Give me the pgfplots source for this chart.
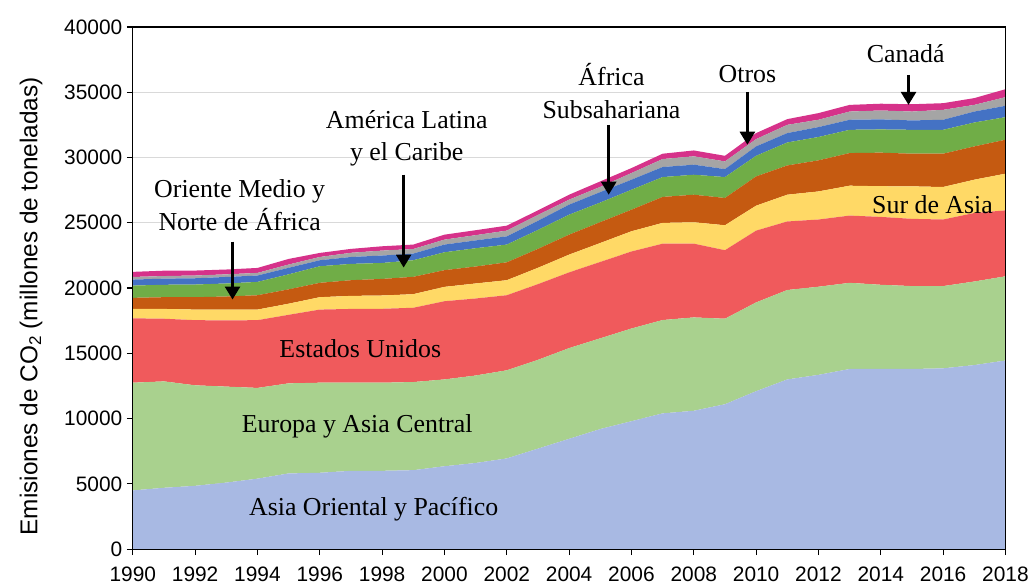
\documentclass[border=0pt]{standalone}
\usepackage{pgfplots}
\pgfplotsset{compat=1.18}
\usepackage{pgfplotstable}
\usetikzlibrary{arrows.meta}
\usepackage{fontspec}
\setmainfont{Liberation Serif}
\newfontfamily\arialfont{Liberation Sans}

\definecolor{cAsia}{RGB}{168,185,227}
\definecolor{cEur}{RGB}{169,209,142}
\definecolor{cUS}{RGB}{240,90,92}
\definecolor{cSA}{RGB}{255,217,102}
\definecolor{cME}{RGB}{197,90,17}
\definecolor{cLA}{RGB}{112,173,71}
\definecolor{cSS}{RGB}{68,114,196}
\definecolor{cOT}{RGB}{165,165,165}
\definecolor{cCA}{RGB}{214,50,138}

\tikzset{lab/.style={font=\fontsize{26}{33}\selectfont, align=center},
  arr/.style={line width=2.6bp, -{Triangle[width=15bp,length=13bp]}}}

\pgfplotstableread{
year A E US SA ME LA SS OT CA
1990 4500 8250 4930 730 840 940 460 200 390
1991 4700 8150 4800 750 900 950 470 200 410
1992 4850 7700 4990 810 950 970 480 210 380
1993 5100 7350 5070 830 1000 1000 500 200 370
1994 5400 6950 5190 810 1100 1020 490 200 380
1995 5800 6900 5250 850 1100 1150 500 250 430
1996 5850 6900 5600 950 1100 1270 460 250 310
1997 6000 6750 5650 1000 1200 1250 530 320 300
1998 6000 6750 5660 1020 1270 1220 570 380 330
1999 6050 6750 5690 1040 1330 1270 510 350 340
2000 6350 6650 5990 1100 1280 1370 590 380 380
2001 6600 6700 5900 1150 1300 1400 600 400 380
2002 6950 6750 5750 1150 1370 1360 630 440 380
2003 7700 6800 5800 1250 1450 1450 700 450 350
2004 8450 6950 5800 1360 1530 1530 770 380 380
2005 9200 6950 5850 1450 1600 1500 800 400 420
2006 9800 7100 5900 1550 1650 1530 770 510 380
2007 10400 7150 5850 1590 1990 1520 770 610 410
2008 10600 7150 5650 1640 2110 1530 770 640 450
2009 11100 6550 5250 1910 2090 1600 610 590 430
2010 12100 6800 5500 1910 2240 1580 720 560 460
2011 13000 6850 5250 2050 2240 1760 720 630 440
2012 13350 6750 5150 2150 2380 1790 760 560 510
2013 13800 6600 5150 2290 2500 1780 770 630 510
2014 13800 6450 5200 2350 2570 1780 770 680 520
2015 13800 6350 5150 2490 2500 1830 720 680 560
2016 13850 6300 5100 2490 2550 1830 770 760 510
2017 14100 6400 5250 2550 2550 1830 840 510 520
2018 14450 6450 5050 2810 2600 1730 870 660 610
}\emisiones

\begin{document}
\begin{tikzpicture}
\begin{axis}[
  scale only axis,
  width=874bp, height=523bp,
  xmin=1990, xmax=2018, ymin=0, ymax=40000,
  xtick={1990,1992,...,2018},
  ytick={0,5000,...,40000},
  scaled y ticks=false,
  stack plots=y,
  axis line style={black, line width=1.2bp},
  tick style={black, line width=1.2bp},
  major tick length=6bp,
  tick align=outside,
  xtick pos=left, ytick pos=left,
  ymajorgrids,
  grid style={gray!30, line width=1bp},
  /pgf/number format/1000 sep={},
  /pgf/number format/assume math mode=true,
  ticklabel style={font=\arialfont\fontsize{21}{25}\selectfont},
  yticklabel style={xshift=-1bp},
  xticklabel style={yshift=-8bp},
  ylabel={Emisiones de CO\textsubscript{2} (millones de toneladas)},
  ylabel style={font=\arialfont\fontsize{24.5}{29}\selectfont, at={(ticklabel cs:0.465,15bp)}},
  clip=false,
]
\addplot[fill=cAsia, draw=none] table[x=year, y=A] {\emisiones} \closedcycle;
\addplot[fill=cEur, draw=none] table[x=year, y=E] {\emisiones} \closedcycle;
\addplot[fill=cUS, draw=none] table[x=year, y=US] {\emisiones} \closedcycle;
\addplot[fill=cSA, draw=none] table[x=year, y=SA] {\emisiones} \closedcycle;
\addplot[fill=cME, draw=none] table[x=year, y=ME] {\emisiones} \closedcycle;
\addplot[fill=cLA, draw=none] table[x=year, y=LA] {\emisiones} \closedcycle;
\addplot[fill=cSS, draw=none] table[x=year, y=SS] {\emisiones} \closedcycle;
\addplot[fill=cOT, draw=none] table[x=year, y=OT] {\emisiones} \closedcycle;
\addplot[fill=cCA, draw=none] table[x=year, y=CA] {\emisiones} \closedcycle;

\coordinate (sw) at (rel axis cs:0,0);
\coordinate (ne) at (rel axis cs:1,1);
\coordinate (l1) at (axis cs:1997.73,3060);
\coordinate (l2) at (axis cs:1997.2,9400);
\coordinate (l3) at (axis cs:1997.3,15370);
\coordinate (l4) at (axis cs:2015.66,26390);
\coordinate (l5) at (axis cs:1993.43,26350);
\coordinate (l6) at (axis cs:1998.79,31470);
\coordinate (l7) at (axis cs:2005.36,35100);
\coordinate (l8) at (axis cs:2009.72,36400);
\coordinate (l9) at (axis cs:2014.8,37930);
\coordinate (a1) at (axis cs:1993.2,23560);
\coordinate (b1) at (axis cs:1993.2,19120);
\coordinate (a2) at (axis cs:1998.69,28680);
\coordinate (b2) at (axis cs:1998.69,21570);
\coordinate (a3) at (axis cs:2005.27,32500);
\coordinate (b3) at (axis cs:2005.27,27150);
\coordinate (a4) at (axis cs:2009.72,35030);
\coordinate (b4) at (axis cs:2009.72,30980);
\coordinate (a5) at (axis cs:2014.89,36330);
\coordinate (b5) at (axis cs:2014.89,34030);
\end{axis}
\draw[line width=1.2bp] (sw) rectangle (ne);
\node[lab] at (l1) {Asia Oriental y Pacífico};
\node[lab] at (l2) {Europa y Asia Central};
\node[lab] at (l3) {Estados Unidos};
\node[lab] at (l4) {Sur de Asia};
\node[lab] at (l5) {Oriente Medio y\\Norte de África};
\node[lab] at (l6) {América Latina\\y el Caribe};
\node[lab] at (l7) {África\\Subsahariana};
\node[lab] at (l8) {Otros};
\node[lab] at (l9) {Canadá};
\draw[arr] (a1) -- (b1);
\draw[arr] (a2) -- (b2);
\draw[arr] (a3) -- (b3);
\draw[arr] (a4) -- (b4);
\draw[arr] (a5) -- (b5);
\path ([shift={(-133bp,-34bp)}]sw) rectangle ([shift={(25bp,27bp)}]ne);
\end{tikzpicture}
\end{document}
